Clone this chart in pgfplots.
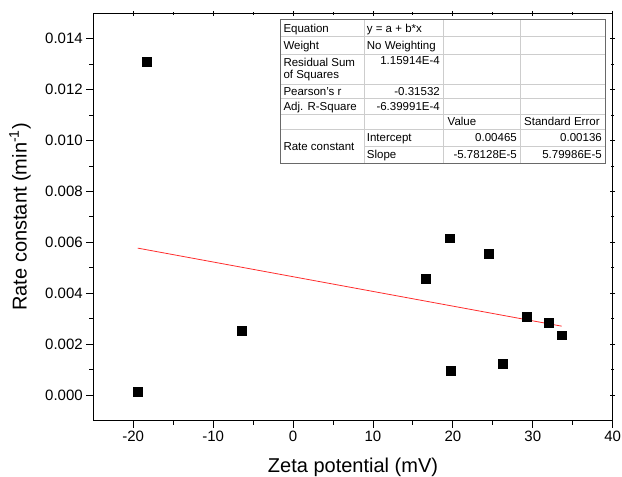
\documentclass[border=0pt]{standalone}
\usepackage{fontspec}
\setmainfont{Liberation Sans}
\usepackage{pgfplots}
\pgfplotsset{compat=1.18}
\definecolor{fitred}{RGB}{255,45,45}
\definecolor{cellline}{RGB}{205,205,205}
\definecolor{tblborder}{RGB}{105,105,105}
\begin{document}
\begin{tikzpicture}
\useasboundingbox (-93.3pt,-56.5pt) rectangle (528.7pt,420.5pt);
\begin{axis}[
  at={(0,0)}, anchor=south west,
  scale only axis, width=519.4pt, height=407.2pt,
  xmin=-25, xmax=40, ymin=-0.001, ymax=0.015,
  xtick={-20,-10,0,10,20,30,40},
  ytick={0,0.002,0.004,0.006,0.008,0.010,0.012,0.014},
  minor x tick num=1, minor y tick num=1,
  tick align=outside, xtick pos=left, ytick pos=left,
  major tick length=7pt, minor tick length=4pt,
  tick style={black, line width=0.9pt},
  axis line style={black, line width=1pt},
  scaled y ticks=false,
  /pgf/number format/assume math mode=true,
  yticklabel style={/pgf/number format/fixed, /pgf/number format/fixed zerofill, /pgf/number format/precision=3},
  tick label style={font=\fontsize{15}{18}\selectfont},
  label style={font=\fontsize{20}{24}\selectfont},
  xlabel={Zeta potential (mV)},
  ylabel={Rate constant (min\textsuperscript{-1})},
  xlabel style={at={(axis description cs:0.5,-0.1142)}, anchor=center},
  ylabel style={at={(axis description cs:-0.1411,0.5)}, anchor=center},
]
\addplot[fitred, line width=0.8pt] coordinates {(-19.43,0.005773) (33.61,0.002707)};
\addplot[only marks, mark=square*, mark size=4.4pt, black] coordinates {
(-19.43,0.00012)
(-18.27,0.01309)
(-6.44,0.00254)
(16.56,0.00456)
(19.56,0.00616)
(19.73,0.00096)
(24.53,0.00554)
(26.25,0.00122)
(29.26,0.00307)
(31.98,0.00283)
(33.61,0.00235)
};
\end{axis}
\begin{axis}[
  at={(0,0)}, anchor=south west,
  scale only axis, width=519.4pt, height=407.2pt,
  xmin=-25, xmax=40, ymin=-0.001, ymax=0.015,
  xtick={-20,-10,0,10,20,30,40},
  ytick={0,0.002,0.004,0.006,0.008,0.010,0.012,0.014},
  minor x tick num=1, minor y tick num=1,
  tick align=center, xtick pos=right, ytick pos=right,
  major tick length=5pt, minor tick length=3pt,
  tick style={black, line width=0.9pt},
  axis line style={black, line width=1pt},
  xticklabels={}, yticklabels={}, scaled y ticks=false,
]
\end{axis}
\begin{scope}[shift={(-93.3pt,420.5pt)}, x=1pt, y=-1pt,
  every node/.style={inner sep=0pt, font=\fontsize{11.5}{13.5}\selectfont}]
\fill[white] (280,20) rectangle (605,163.3);
\foreach \yy in {36.7,54,84,98.3,114,129.3}{\draw[cellline, line width=0.8pt] (280,\yy) -- (605,\yy);}
\draw[cellline, line width=0.8pt] (364.3,146) -- (605,146);
\foreach \xx in {364.3,443.3,520}{\draw[cellline, line width=0.8pt] (\xx,20) -- (\xx,163.3);}
\draw[tblborder, line width=1pt] (280,20) rectangle (605,163.3);
% column 1
\node[anchor=base west] at (283.3,32.6) {Equation};
\node[anchor=base west] at (283.3,49.5) {Weight};
\node[anchor=base west] at (283.3,66.7) {Residual Sum};
\node[anchor=base west] at (283.3,78.5) {of Squares};
\node[anchor=base west] at (283.3,95.3) {Pearson's r};
\node[anchor=base west] at (283.3,110.3) {Adj. R-Square};
\node[anchor=base west] at (283.3,150.5) {Rate constant};
% column 2
\node[anchor=base west] at (366.7,32.6) {y = a + b*x};
\node[anchor=base west] at (366.7,49.5) {No Weighting};
\node[anchor=base east] at (440,65) {1.15914E-4};
\node[anchor=base east] at (440,95.3) {-0.31532};
\node[anchor=base east] at (440,110.3) {-6.39991E-4};
\node[anchor=base west] at (366.7,141.8) {Intercept};
\node[anchor=base west] at (366.7,158.8) {Slope};
% column 3
\node[anchor=base west] at (447.5,125.8) {Value};
\node[anchor=base east] at (517,141.8) {0.00465};
\node[anchor=base east] at (517,158.8) {-5.78128E-5};
% column 4
\node[anchor=base west] at (524,125.8) {Standard Error};
\node[anchor=base east] at (602,141.8) {0.00136};
\node[anchor=base east] at (602,158.8) {5.79986E-5};
\end{scope}
\end{tikzpicture}
\end{document}
